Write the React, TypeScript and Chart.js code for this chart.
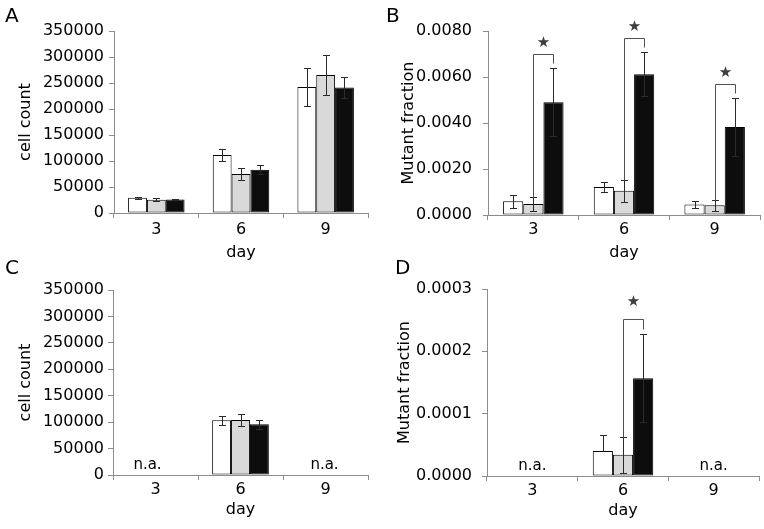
import React, { useEffect, useRef } from 'react';
import { Chart, registerables } from 'chart.js';

Chart.register(...registerables);

// ---------- data ----------
const days = ['3', '6', '9'];

// Panel A: cell count
const cellWhiteA = [29500, 111500, 242500];
const cellWhiteErrA = [2000, 11500, 36000];
const cellGrayA = [25500, 75000, 265500];
const cellGrayErrA = [3000, 12000, 38000];
const cellBlackA = [26000, 83000, 241500];
const cellBlackErrA = [1500, 8500, 19500];

// Panel B: mutant fraction
const mfWhiteB = [0.0006, 0.00122, 0.00046];
const mfWhiteErrB = [0.00028, 0.00022, 0.00014];
const mfGrayB = [0.00048, 0.00105, 0.00042];
const mfGrayErrB = [0.00032, 0.00047, 0.00024];
const mfBlackB = [0.0049, 0.00612, 0.00383];
const mfBlackErrB = [0.00147, 0.00096, 0.00125];
const significantB = [0, 1, 2];

// Panel C: cell count
const cellWhiteC = [null, 103500, null];
const cellWhiteErrC = [0, 9000, 0];
const cellGrayC = [null, 104000, null];
const cellGrayErrC = [0, 11000, 0];
const cellBlackC = [null, 96000, null];
const cellBlackErrC = [0, 9000, 0];
const notAvailableC = [0, 2];

// Panel D: mutant fraction
const mfWhiteD = [null, 0.00004, null];
const mfWhiteErrD = [0, 0.000026, 0];
const mfGrayD = [null, 0.000034, null];
const mfGrayErrD = [0, 0.000029, 0];
const mfBlackD = [null, 0.000157, null];
const mfBlackErrD = [0, 0.000071, 0];
const significantD = [1];
const notAvailableD = [0, 2];

// ---------- styles ----------
const FONT = "'DejaVu Sans', sans-serif";
const AXIS = '#8c8c8c';
const FILLS = ['#ffffff', '#d9d9d9', '#0d0d0d'];

const decorPlugin = {
  id: 'panelDecor',
  afterDatasetsDraw(chart: any, _a: any, o: any) {
    const ctx = chart.ctx;
    const ys = chart.scales.y;
    ctx.save();
    ctx.lineWidth = 1;
    ctx.strokeStyle = '#2a2a2a';
    chart.data.datasets.forEach((ds: any, i: number) => {
      const meta = chart.getDatasetMeta(i);
      ds.data.forEach((v: any, j: number) => {
        if (v == null) return;
        const e = o.errs[i][j];
        const upperOnly = o.upperOnly && o.upperOnly[i] === j;
        const x = Math.round(meta.data[j].x) + 0.5;
        const yt = Math.round(ys.getPixelForValue(v + e)) + 0.5;
        const yb = upperOnly
          ? Math.round(ys.getPixelForValue(v)) + 0.5
          : Math.round(ys.getPixelForValue(v - e)) + 0.5;
        ctx.beginPath();
        ctx.moveTo(x, yt);
        ctx.lineTo(x, yb);
        ctx.moveTo(x - 3.5, yt);
        ctx.lineTo(x + 3.5, yt);
        if (!upperOnly) {
          ctx.moveTo(x - 3.5, yb);
          ctx.lineTo(x + 3.5, yb);
        }
        ctx.stroke();
      });
    });
    // significance brackets
    const data = chart.data.datasets;
    (o.brackets || []).forEach((k: number) => {
      const gm = chart.getDatasetMeta(1);
      const bm = chart.getDatasetMeta(2);
      const gx = Math.round(gm.data[k].x) + 0.5;
      const bx = Math.round(bm.data[k].x) + 0.5;
      const gTop = ys.getPixelForValue(data[1].data[k] + o.errs[1][k]);
      const bTop = ys.getPixelForValue(data[2].data[k] + o.errs[2][k]);
      const top = Math.round(bTop - o.bracketGap) + 0.5;
      ctx.strokeStyle = '#505050';
      ctx.beginPath();
      ctx.moveTo(gx, Math.round(gTop) + 0.5);
      ctx.lineTo(gx, top);
      ctx.lineTo(bx, top);
      ctx.lineTo(bx, Math.round(bTop - 5) + 0.5);
      ctx.stroke();
      ctx.fillStyle = '#404040';
      ctx.font = `15px ${FONT}`;
      ctx.textAlign = 'center';
      ctx.textBaseline = 'middle';
      ctx.fillText('\u2605', (gx + bx) / 2, top - o.starGap);
    });
    ctx.restore();
  },
  afterDraw(chart: any, _a: any, o: any) {
    const ctx = chart.ctx;
    ctx.save();
    ctx.fillStyle = '#000';
    ctx.font = `20px ${FONT}`;
    ctx.textAlign = 'left';
    ctx.textBaseline = 'alphabetic';
    ctx.fillText(o.letter, o.letterX, o.letterY);
    const xs = chart.scales.x;
    (o.na || []).forEach((k: number, n: number) => {
      ctx.font = `15px ${FONT}`;
      ctx.textAlign = 'center';
      ctx.textBaseline = 'middle';
      const dx = o.naDx ? o.naDx[n] : 0;
      ctx.fillText('n.a.', xs.getPixelForValue(k) + dx, chart.chartArea.bottom - 10);
    });
    ctx.restore();
  },
};

type PanelCfg = {
  x: number; y: number; W: number; H: number;
  left: number; right: number; top: number; bottom: number;
  padLeft: number; padBottom: number; yTickPad: number; xTickPad: number;
  yTitle: string; yMax: number; yStep: number; decimals: number;
  series: any[][]; errs: number[][];
  decor: any;
};

const panels: PanelCfg[] = [
  {
    x: 0, y: 0, W: 380, H: 262, left: 114, right: 368, top: 31, bottom: 213,
    padLeft: 16, padBottom: 0, yTickPad: 5, xTickPad: 2,
    yTitle: 'cell count', yMax: 350000, yStep: 50000, decimals: 0,
    series: [cellWhiteA, cellGrayA, cellBlackA],
    errs: [cellWhiteErrA, cellGrayErrA, cellBlackErrA],
    decor: { letter: 'A', letterX: 5, letterY: 22 },
  },
  {
    x: 380, y: 0, W: 384, H: 262, left: 108, right: 380, top: 31, bottom: 215,
    padLeft: 19, padBottom: 0, yTickPad: 11, xTickPad: 0,
    yTitle: 'Mutant fraction', yMax: 0.008, yStep: 0.002, decimals: 4,
    series: [mfWhiteB, mfGrayB, mfBlackB],
    errs: [mfWhiteErrB, mfGrayErrB, mfBlackErrB],
    decor: { letter: 'B', letterX: 6, letterY: 22, brackets: significantB, bracketGap: 14, starGap: 11 },
  },
  {
    x: 0, y: 246, W: 380, H: 283, left: 113, right: 368, top: 44, bottom: 229,
    padLeft: 16, padBottom: 10, yTickPad: 4, xTickPad: 0,
    yTitle: 'cell count', yMax: 350000, yStep: 50000, decimals: 0,
    series: [cellWhiteC, cellGrayC, cellBlackC],
    errs: [cellWhiteErrC, cellGrayErrC, cellBlackErrC],
    decor: { letter: 'C', letterX: 5, letterY: 28, na: notAvailableC, naDx: [-8, -1] },
  },
  {
    x: 380, y: 246, W: 384, H: 283, left: 107, right: 379, top: 43, bottom: 230,
    padLeft: 15, padBottom: 9, yTickPad: 10, xTickPad: 0,
    yTitle: 'Mutant fraction', yMax: 0.0003, yStep: 0.0001, decimals: 4,
    series: [mfWhiteD, mfGrayD, mfBlackD],
    errs: [mfWhiteErrD, mfGrayErrD, mfBlackErrD],
    decor: { letter: 'D', letterX: 15, letterY: 28, na: notAvailableD, upperOnly: [1], brackets: significantD, bracketGap: 15, starGap: 17 },
  },
];

function buildConfig(p: PanelCfg): any {
  const upperOnly = p.decor.upperOnly ? { 0: p.decor.upperOnly[0] } : null;
  return {
    type: 'bar',
    data: {
      labels: days,
      datasets: p.series.map((s, i) => ({
        data: s,
        backgroundColor: FILLS[i],
        borderColor: '#000',
        borderWidth: 1,
        borderSkipped: false,
        categoryPercentage: 0.667,
        barPercentage: 1,
      })),
    },
    options: {
      responsive: false,
      animation: false,
      events: [],
      layout: { padding: { left: p.padLeft, right: p.W - p.right, top: p.top, bottom: p.padBottom } },
      plugins: {
        legend: { display: false },
        tooltip: { enabled: false },
        panelDecor: { ...p.decor, errs: p.errs, upperOnly },
      },
      scales: {
        x: {
          type: 'category',
          offset: true,
          grid: { offset: true, drawOnChartArea: false, drawTicks: true, tickLength: 5, color: AXIS, lineWidth: 1 },
          border: { display: true, color: AXIS, width: 1 },
          ticks: { font: { family: FONT, size: 16 }, color: '#000', padding: p.xTickPad, maxRotation: 0, autoSkip: false },
          title: { display: true, text: 'day', font: { family: FONT, size: 16 }, color: '#000', padding: 0 },
          afterFit: (s: any) => { s.height = p.H - p.padBottom - p.bottom; },
        },
        y: {
          min: 0,
          max: p.yMax,
          grid: { drawOnChartArea: false, drawTicks: true, tickLength: 5, color: AXIS, lineWidth: 1 },
          border: { display: true, color: AXIS, width: 1 },
          ticks: {
            stepSize: p.yStep,
            font: { family: FONT, size: 16 },
            color: '#000',
            padding: p.yTickPad,
            callback: (v: any) => Number(v).toFixed(p.decimals),
          },
          title: { display: true, text: p.yTitle, font: { family: FONT, size: 16 }, color: '#000', padding: 0 },
          afterFit: (s: any) => { s.width = p.left - p.padLeft; },
        },
      },
    },
    plugins: [decorPlugin],
  };
}

function Panel({ p }: { p: PanelCfg }) {
  const ref = useRef<HTMLCanvasElement>(null);
  useEffect(() => {
    const chart = new Chart(ref.current as HTMLCanvasElement, buildConfig(p));
    return () => chart.destroy();
  }, [p]);
  return (
    <div style={{ position: 'absolute', left: p.x, top: p.y, width: p.W, height: p.H }}>
      <canvas ref={ref} width={p.W} height={p.H} style={{ display: 'block', width: p.W, height: p.H }} />
    </div>
  );
}

export default function App() {
  return (
    <div style={{ position: 'absolute', left: 0, top: 0, width: 764, height: 529, background: '#fff', overflow: 'hidden' }}>
      {panels.map((p, i) => (
        <Panel key={i} p={p} />
      ))}
    </div>
  );
}
